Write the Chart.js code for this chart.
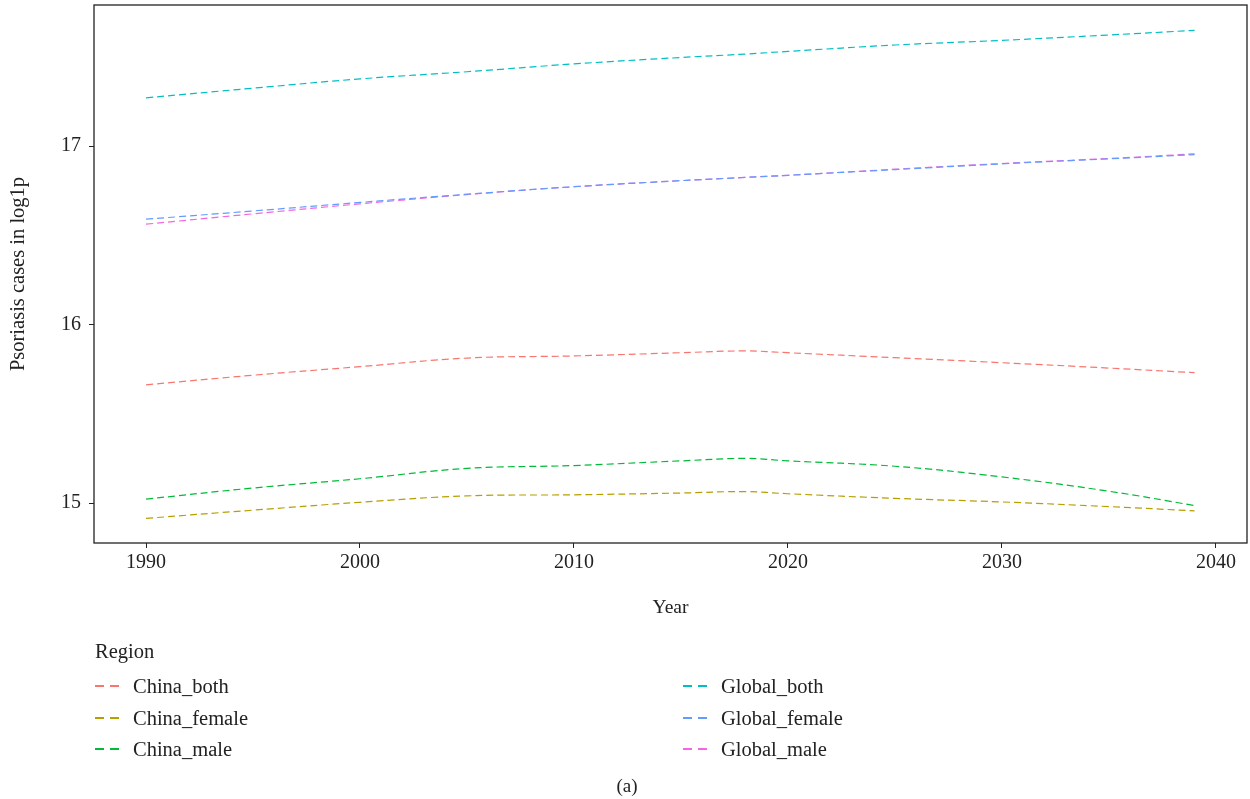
<!DOCTYPE html>
<html lang="en">
<head>
  <meta charset="UTF-8" />
  <title>Psoriasis cases in log1p</title>
  <script src="https://cdn.jsdelivr.net/npm/chart.js"></script>
  <style>
    html, body { margin: 0; padding: 0; background: #fff; }
    body { width: 1250px; height: 799px; position: relative; overflow: hidden;
           font-family: 'Liberation Serif', 'DejaVu Serif', serif; color: #222; }
    #wrap { position: absolute; left: 0; top: 0; width: 1250px; height: 799px; }
    #legendTitle { position: absolute; left: 95px; top: 640px; font-size: 20.5px; }
    .item { position: absolute; font-size: 20.5px; line-height: 24px; height: 24px; white-space: nowrap; }
    .key { display: inline-block; width: 24px; height: 2px; vertical-align: middle;
           margin-right: 14px; position: relative; top: -2px; }
    #caption { position: absolute; left: 0; width: 1254px; text-align: center; top: 775px; font-size: 19px; }
  </style>
</head>
<body>
  <div id="wrap"><canvas id="chart" width="1250" height="799"></canvas></div>
  <div id="legendTitle">Region</div>
  <div id="legend"></div>
  <div id="caption">(a)</div>
  <script>
    const years = [1990, 1995, 2000, 2005, 2010, 2015, 2018, 2020, 2025, 2030, 2035, 2039];
    const chinaBoth   = [15.662, 15.716, 15.764, 15.812, 15.824, 15.842, 15.852, 15.842, 15.814, 15.786, 15.756, 15.730];
    const chinaFemale = [14.914, 14.960, 15.004, 15.040, 15.046, 15.056, 15.064, 15.052, 15.026, 15.006, 14.980, 14.956];
    const chinaMale   = [15.022, 15.084, 15.136, 15.194, 15.210, 15.236, 15.250, 15.236, 15.206, 15.146, 15.066, 14.986];
    const globalBoth   = [17.270, 17.324, 17.376, 17.416, 17.460, 17.496, 17.515, 17.530, 17.566, 17.592, 17.622, 17.648];
    const globalFemale = [16.590, 16.636, 16.684, 16.730, 16.772, 16.806, 16.824, 16.836, 16.868, 16.900, 16.928, 16.952];
    const globalMale   = [16.562, 16.620, 16.676, 16.728, 16.772, 16.806, 16.824, 16.836, 16.870, 16.902, 16.930, 16.956];
    const regions = ['China_both', 'China_female', 'China_male', 'Global_both', 'Global_female', 'Global_male'];
    const colors = ['#F8766D', '#B79F00', '#00BA38', '#00BFC4', '#619CFF', '#F564E3'];
    const xTicks = [1990, 2000, 2010, 2020, 2030, 2040];
    const yTicks = [15, 16, 17];

    const series = [chinaBoth, chinaFemale, chinaMale, globalBoth, globalFemale, globalMale];
    const datasets = series.map((vals, i) => ({
      label: regions[i],
      data: vals.map((v, j) => ({ x: years[j], y: v })),
      borderColor: colors[i],
      borderWidth: 1.2,
      borderDash: [7, 4],
      pointRadius: 0,
      tension: 0.4,
      fill: false
    }));

    const frame = {
      id: 'frame',
      afterDraw(chart) {
        const a = chart.chartArea, c = chart.ctx;
        c.save();
        c.strokeStyle = '#222';
        c.lineWidth = 1.3;
        c.strokeRect(a.left, a.top, a.right - a.left, a.bottom - a.top);
        c.restore();
      }
    };

    const family = "'Liberation Serif', 'DejaVu Serif', serif";

    new Chart(document.getElementById('chart'), {
      type: 'line',
      data: { datasets },
      plugins: [frame],
      options: {
        responsive: false,
        animation: false,
        layout: { autoPadding: false, padding: { top: 5, right: 3, left: 0, bottom: 179 } },
        plugins: { legend: { display: false }, tooltip: { enabled: false } },
        scales: {
          x: {
            type: 'linear',
            min: 1987.57,
            max: 2041.45,
            afterBuildTicks: s => { s.ticks = xTicks.map(v => ({ value: v })); },
            afterFit: s => { s.height = 77; s.paddingLeft = 0; s.paddingRight = 0; },
            grid: { drawOnChartArea: false, drawTicks: true, tickLength: 5, color: '#222' },
            border: { display: false },
            ticks: { color: '#222', font: { family, size: 20 }, padding: 3, maxRotation: 0, callback: v => String(v) },
            title: { display: true, text: 'Year', color: '#222', font: { family, size: 19.5 }, padding: 0 }
          },
          y: {
            type: 'linear',
            min: 14.776,
            max: 17.79,
            afterBuildTicks: s => { s.ticks = yTicks.map(v => ({ value: v })); },
            afterFit: s => { s.width = 94; s.paddingTop = 0; s.paddingBottom = 0; },
            grid: { drawOnChartArea: false, drawTicks: true, tickLength: 5, color: '#222' },
            border: { display: false },
            ticks: { color: '#222', font: { family, size: 20 }, padding: 8, callback: v => String(v) },
            title: { display: true, text: 'Psoriasis cases in log1p', color: '#222', font: { family, size: 20.5 }, padding: { top: 6, bottom: 0 } }
          }
        }
      }
    });

    const legend = document.getElementById('legend');
    regions.forEach((name, i) => {
      const col = Math.floor(i / 3), row = i % 3;
      const el = document.createElement('div');
      el.className = 'item';
      el.style.left = (col === 0 ? 95 : 683) + 'px';
      el.style.top = (674 + row * 31.5) + 'px';
      const c = colors[i];
      el.innerHTML = '<span class="key" style="background: linear-gradient(to right, ' + c + ' 0 9px, transparent 9px 15px, ' + c + ' 15px 24px)"></span>' + name;
      legend.appendChild(el);
    });
  </script>
</body>
</html>
